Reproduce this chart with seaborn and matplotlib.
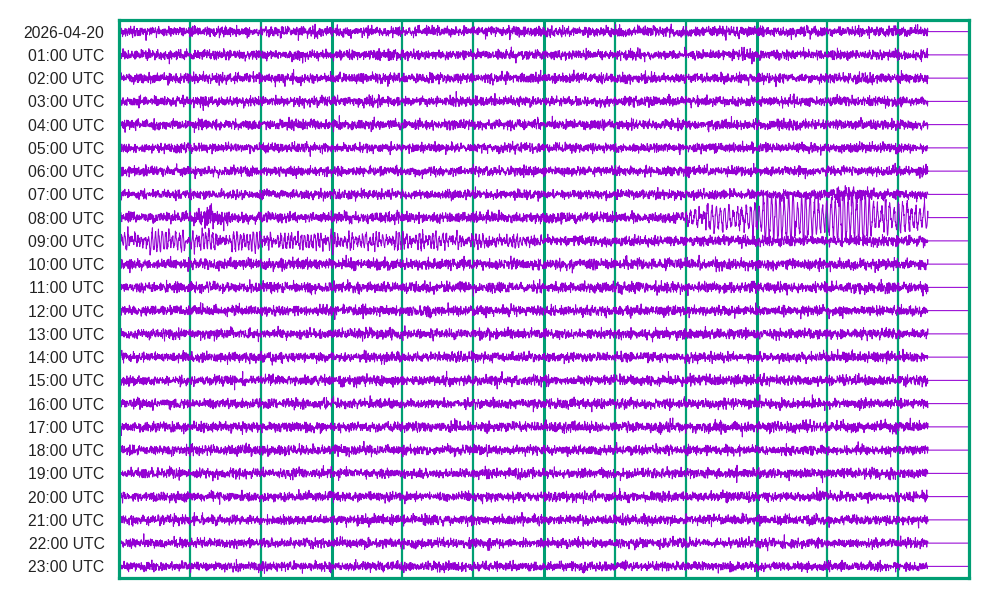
import numpy as np
import pandas as pd
import matplotlib
matplotlib.use("Agg")
import matplotlib.pyplot as plt
import seaborn as sns

# ---- data -------------------------------------------------------------
row_labels = ["2026-04-20", "01:00 UTC", "02:00 UTC", "03:00 UTC", "04:00 UTC",
              "05:00 UTC", "06:00 UTC", "07:00 UTC", "08:00 UTC", "09:00 UTC",
              "10:00 UTC", "11:00 UTC", "12:00 UTC", "13:00 UTC", "14:00 UTC",
              "15:00 UTC", "16:00 UTC", "17:00 UTC", "18:00 UTC", "19:00 UTC",
              "20:00 UTC", "21:00 UTC", "22:00 UTC", "23:00 UTC"]
row_noise_px = [2.4, 2.3, 2.4, 2.3, 2.4, 2.2, 2.3, 2.2, 2.5, 2.4,
                2.6, 2.5, 2.4, 2.4, 2.3, 2.4, 2.3, 2.4, 2.3, 2.3,
                2.3, 2.3, 2.2, 2.2]
data_end_min = 57.1          # traces stop here, flat baseline afterwards

# local event envelopes (minute, amplitude in px)
burst08_t = [5.0, 5.6, 6.5, 7.4, 8.2]
burst08_a = [0.0, 6.0, 8.0, 5.0, 0.0]
quake08_t = [39.5, 40.2, 42.0, 44.5, 45.2, 47.0, 49.0, 51.0, 52.5, 53.5, 55.0, 57.1]
quake08_a = [0.0, 7.0, 10.0, 11.0, 20.0, 22.0, 24.0, 26.0, 24.0, 15.0, 14.0, 14.0]
quake08_period = 0.30        # minutes per cycle
wave09_t = [0.0, 3.0, 8.0, 14.0, 20.0, 25.0, 29.5, 30.5]
wave09_a = [8.0, 9.0, 7.5, 7.0, 6.0, 5.0, 3.5, 0.0]
wave09_period = 0.24
bump07_t = [49.0, 51.5, 54.0]
bump07_a = [0.0, 4.0, 0.0]

row_px = 558 / 24.0          # pixel height of one hour row
samples_per_min = 56

# ---- build traces -------------------------------------------------------
texture = np.random.default_rng(20260420)   # unreadable micro-texture of the noise
t = np.arange(0, data_end_min, 1.0 / samples_per_min)


def cycle_gain(period, lo, hi):
    """random amplitude per wave cycle -> irregular beating like the reference"""
    k = np.floor(t / (period * 1.5)).astype(int)
    g = texture.uniform(lo, hi, k.max() + 2)
    return g[k]


frames = []
for i, lab in enumerate(row_labels):
    y_px = texture.standard_normal(t.size) * row_noise_px[i]
    if i == 8:
        y_px += texture.standard_normal(t.size) * np.interp(t, burst08_t, burst08_a, 0, 0) * 0.6
        env = np.interp(t, quake08_t, quake08_a, 0, 0)
        ph = 2 * np.pi * t / quake08_period + np.cumsum(texture.standard_normal(t.size)) * 0.07
        y_px += env * np.sin(ph) * cycle_gain(quake08_period, 0.45, 1.25)
        y_px[(t > 51.3) & (t < 51.5)] *= 1.3
    if i == 9:
        env = np.interp(t, wave09_t, wave09_a, 0, 0)
        ph = 2 * np.pi * t / wave09_period + np.cumsum(texture.standard_normal(t.size)) * 0.1
        y_px += env * np.sin(ph) * cycle_gain(wave09_period, 0.1, 1.3)
    if i == 7:
        y_px += texture.standard_normal(t.size) * np.interp(t, bump07_t, bump07_a, 0, 0)
    tt = np.concatenate([t, [data_end_min, 60.0]])
    yy = np.concatenate([y_px, [0.0, 0.0]]) / row_px + i
    frames.append(pd.DataFrame({"minute": tt, "y": yy, "row": i}))
df = pd.concat(frames, ignore_index=True)

# ---- draw ---------------------------------------------------------------
sns.set_theme(style="white")
plt.rcParams["font.family"] = ["Liberation Sans", "DejaVu Sans"]
fig = plt.figure(figsize=(10, 6), dpi=100)
ax = fig.add_axes([0.119, 1 - 578 / 600, 0.850, 558 / 600])

green = "#009E73"
for m in range(5, 60, 5):
    ax.axvline(m, color=green, lw=2.2 if m % 15 == 0 else 1.6, zorder=1)

sns.lineplot(data=df, x="minute", y="y", units="row", estimator=None, sort=False,
             color="#9400D3", lw=0.75, ax=ax, zorder=2, legend=False)

ax.set_xlim(0, 60)
ax.set_ylim(23.5, -0.5)
ax.set_yticks(range(24))
ax.set_yticklabels(row_labels, fontsize=11.3, color="#222222")
ax.set_xticks([])
ax.set_xlabel("")
ax.set_ylabel("")
ax.tick_params(axis="y", length=0, pad=10.5)
for s in ax.spines.values():
    s.set_color(green)
    s.set_linewidth(2.3)
    s.set_visible(True)

fig.savefig("out.png", dpi=100)
